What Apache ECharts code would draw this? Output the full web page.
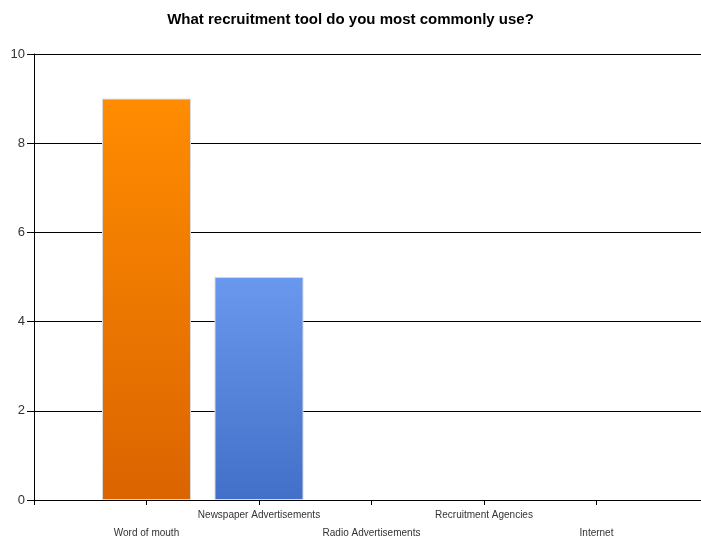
<!DOCTYPE html>
<html>
<head>
<meta charset="utf-8">
<script src="https://cdn.jsdelivr.net/npm/echarts@6/dist/echarts.min.js"></script>
<style>html,body{margin:0;padding:0;background:#fff;}#c{width:701px;height:538px;}</style>
</head>
<body>
<div id="c"></div>
<script>
var titleText = 'What recruitment tool do you most commonly use?';
var categories = ['', 'Word of mouth', 'Newspaper Advertisements', 'Radio Advertisements', 'Recruitment Agencies', 'Internet', ''];
var values = [null, 9, 5, 0, 0, 0, null];
var yTicks = [0, 2, 4, 6, 8, 10];

var gradients = {
  1: ['#FF8C00', '#DB6400'],
  2: ['#6A98EE', '#4270C8']
};

var chart = echarts.init(document.getElementById('c'), null, {renderer: 'canvas'});
var data = values.map(function (v, i) {
  var g = gradients[i];
  if (!g || v === null) return v;
  return {
    value: v,
    itemStyle: {
      color: new echarts.graphic.LinearGradient(0, 0, 0, 1, [
        {offset: 0, color: g[0]}, {offset: 1, color: g[1]}
      ]),
      borderColor: '#d9d9d9',
      borderWidth: 1
    }
  };
});

chart.setOption({
  animation: false,
  title: {
    text: titleText,
    left: 'center',
    top: 7,
    textStyle: {fontFamily: 'Liberation Sans, Arial', fontSize: 15, fontWeight: 'bold', color: '#000'}
  },
  grid: {left: 34, top: 54, width: 675, height: 446, containLabel: false, outerBoundsMode: 'none'},
  xAxis: {
    type: 'category',
    data: categories,
    boundaryGap: false,
    axisLine: {lineStyle: {color: '#000', width: 1}},
    axisTick: {show: true, length: 5, lineStyle: {color: '#000'}},
    axisLabel: {
      interval: 0,
      fontFamily: 'Liberation Sans, Arial',
      fontSize: 10,
      color: '#333',
      margin: 6,
      lineHeight: 18,
      formatter: function (v, i) { return (i % 2 === 1) ? '\n' + v : v; }
    },
    splitLine: {show: false}
  },
  yAxis: {
    type: 'value',
    min: 0, max: 10, interval: 2,
    axisLine: {show: true, lineStyle: {color: '#000', width: 1}},
    axisTick: {show: true, length: 7, lineStyle: {color: '#000'}},
    axisLabel: {fontFamily: 'Liberation Sans, Arial', fontSize: 13, color: '#333', margin: 9},
    splitLine: {show: true, lineStyle: {color: '#000', width: 1}}
  },
  series: [{
    type: 'bar',
    data: data,
    barWidth: 89
  }]
});
</script>
</body>
</html>
